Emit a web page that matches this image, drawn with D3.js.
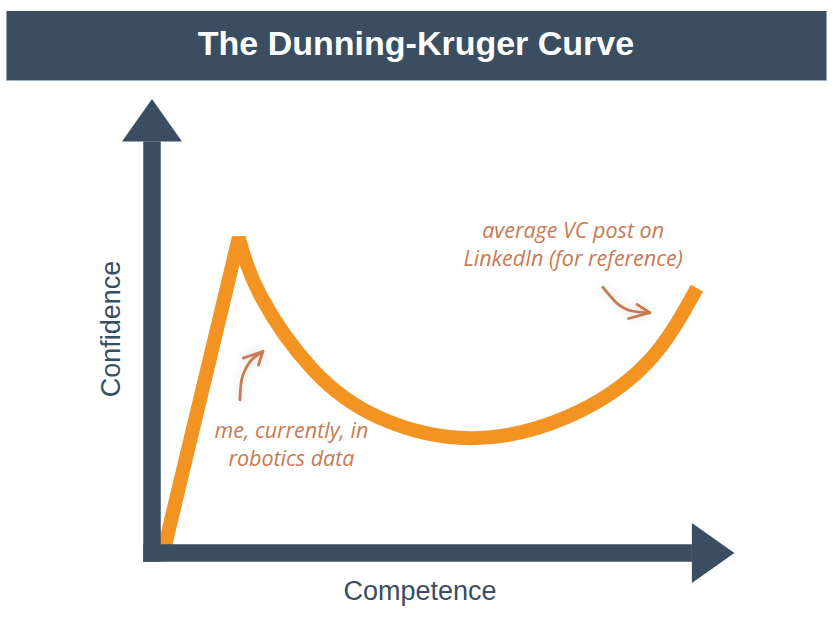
<!DOCTYPE html>
<html lang="en">
<head>
    <meta charset="UTF-8">
    <title>The Dunning-Kruger Curve</title>
    <script src="https://d3js.org/d3.v7.min.js"></script>
    <style>
        body { margin: 0; background: #ffffff; }
        svg { display: block; }
        .title { font-family: "Liberation Sans", Arial, sans-serif; font-weight: bold; font-size: 34px; fill: #ffffff; }
        .axis-label { font-family: "Liberation Sans", Arial, sans-serif; font-size: 27px; fill: #3a4d61; }
        .note { font-family: "Open Sans", sans-serif; font-style: italic; font-size: 21.5px; fill: #c97a52; }
    </style>
</head>
<body>
<div id="viz"></div>
<script>
    // competence (x) / confidence (y), both 0-100
    var riseCompetence = [2.0, 15.5];
    var riseConfidence = [0, 71.6];

    var dipCompetence = [15.5, 19.5, 28.8, 40.7, 56.8, 74.1, 88.4, 97.3];
    var dipConfidence = [71.6, 58.2, 41.6, 30.7, 26.1, 30.9, 43.2, 60.2];

    var titleText = "The Dunning-Kruger Curve";
    var xLabel = "Competence";
    var yLabel = "Confidence";

    var noteMe = ["me, currently, in", "robotics data"];
    var noteVC = ["average VC post on", "LinkedIn (for reference)"];

    // little hand drawn arrows, in chart units
    var arrowMeX = [15.7, 16.0, 16.9, 18.1, 19.8];
    var arrowMeY = [34.8, 39.3, 42.3, 44.3, 45.8];
    var arrowMeBarbX = [16.3, 19.8, 19.0];
    var arrowMeBarbY = [44.3, 45.8, 42.7];

    var arrowVCX = [80.5, 83.0, 85.7, 88.9];
    var arrowVCY = [60.4, 56.8, 55.0, 54.6];
    var arrowVCBarbX = [85.1, 88.9, 86.6];
    var arrowVCBarbY = [53.3, 54.6, 56.5];

    var width = 833, height = 621;
    var navy = "#3a4d61", orange = "#f39322", rust = "#c97a52";

    var svg = d3.select("#viz").append("svg")
        .attr("width", width)
        .attr("height", height);

    var xScale = d3.scaleLinear().domain([0, 100]).range([152, 712]);
    var yScale = d3.scaleLinear().domain([0, 100]).range([553, 113]);

    var defs = svg.append("defs");
    var glow = defs.append("filter").attr("id", "glow")
        .attr("x", "-50%").attr("y", "-50%").attr("width", "200%").attr("height", "200%");
    glow.append("feDropShadow")
        .attr("dx", 0).attr("dy", 0)
        .attr("stdDeviation", 5)
        .attr("flood-color", "#000000")
        .attr("flood-opacity", 0.16);

    // title bar
    svg.append("rect")
        .attr("x", 6.5).attr("y", 11)
        .attr("width", 820).attr("height", 70)
        .attr("fill", navy);
    svg.append("line")
        .attr("x1", 6.5).attr("x2", 826.5)
        .attr("y1", 80.5).attr("y2", 80.5)
        .attr("stroke", "#9fb0c0").attr("stroke-width", 1);
    svg.append("text")
        .attr("class", "title")
        .attr("x", 416).attr("y", 55)
        .attr("text-anchor", "middle")
        .text(titleText);

    // the curve: straight rise, then the long dip (drawn under the axes)
    var rise = riseCompetence.map(function (d, i) { return [d, riseConfidence[i]]; });
    var dip = dipCompetence.map(function (d, i) { return [d, dipConfidence[i]]; });

    var riseLine = d3.line()
        .x(function (d) { return xScale(d[0]); })
        .y(function (d) { return yScale(d[1]); })
        .curve(d3.curveLinear);
    var dipLine = d3.line()
        .x(function (d) { return xScale(d[0]); })
        .y(function (d) { return yScale(d[1]); })
        .curve(d3.curveNatural);

    var curvePath = riseLine(rise) + dipLine(dip).replace(/^M/, "L");
    svg.append("path")
        .attr("d", curvePath)
        .attr("fill", "none")
        .attr("stroke", orange)
        .attr("stroke-width", 14)
        .attr("stroke-linejoin", "bevel")
        .attr("stroke-linecap", "butt");

    // axes: thick bars with arrow heads
    var ox = xScale(0), oy = yScale(0);
    var barW = 17.5, headLen = 42.5, headHalf = 30;
    var yTip = yScale(103.2), xTip = xScale(104);

    svg.append("rect")
        .attr("x", ox - barW / 2).attr("y", yTip + headLen)
        .attr("width", barW).attr("height", oy + barW / 2 - (yTip + headLen))
        .attr("fill", navy);
    svg.append("path")
        .attr("d", "M" + ox + "," + yTip + "L" + (ox + headHalf) + "," + (yTip + headLen) +
            "L" + (ox - headHalf) + "," + (yTip + headLen) + "Z")
        .attr("fill", navy);

    svg.append("rect")
        .attr("x", ox - barW / 2).attr("y", oy - barW / 2)
        .attr("width", xTip - headLen - (ox - barW / 2)).attr("height", barW)
        .attr("fill", navy);
    svg.append("path")
        .attr("d", "M" + xTip + "," + oy + "L" + (xTip - headLen) + "," + (oy - headHalf) +
            "L" + (xTip - headLen) + "," + (oy + headHalf) + "Z")
        .attr("fill", navy);

    svg.append("text")
        .attr("class", "axis-label")
        .attr("x", 420).attr("y", 600)
        .attr("text-anchor", "middle")
        .text(xLabel);
    svg.append("text")
        .attr("class", "axis-label")
        .attr("transform", "translate(120,329) rotate(-90)")
        .attr("text-anchor", "middle")
        .text(yLabel);

    // notes
    function drawArrow(xs, ys, bx, by) {
        var pts = xs.map(function (d, i) { return [d, ys[i]]; });
        var barb = bx.map(function (d, i) { return [d, by[i]]; });
        var g = svg.append("g").attr("filter", "url(#glow)");
        g.append("path")
            .attr("d", dipLine(pts))
            .attr("fill", "none")
            .attr("stroke", rust)
            .attr("stroke-width", 2.8)
            .attr("stroke-linecap", "round");
        g.append("path")
            .attr("d", riseLine(barb))
            .attr("fill", "none")
            .attr("stroke", rust)
            .attr("stroke-width", 2.8)
            .attr("stroke-linecap", "round")
            .attr("stroke-linejoin", "round");
    }
    drawArrow(arrowMeX, arrowMeY, arrowMeBarbX, arrowMeBarbY);
    drawArrow(arrowVCX, arrowVCY, arrowVCBarbX, arrowVCBarbY);

    function drawNote(lines, cx, baseline) {
        svg.selectAll(null)
            .data(lines)
            .enter()
            .append("text")
            .attr("class", "note")
            .attr("x", cx)
            .attr("y", function (d, i) { return baseline + i * 28; })
            .attr("text-anchor", "middle")
            .text(function (d) { return d; });
    }
    drawNote(noteMe, xScale(24.9), yScale(26.1));
    drawNote(noteVC, xScale(75.2), yScale(71.6));
</script>
</body>
</html>
